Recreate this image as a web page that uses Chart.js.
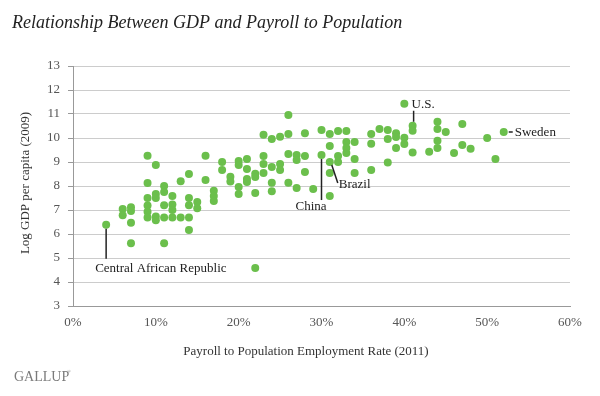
<!DOCTYPE html>
<html>
<head>
<meta charset="utf-8">
<title>Relationship Between GDP and Payroll to Population</title>
<script src="https://cdn.jsdelivr.net/npm/chart.js@4.4.0/dist/chart.umd.min.js"></script>
<style>
  html, body { margin: 0; padding: 0; background: #fff; }
  #wrap { width: 600px; height: 396px; }
</style>
</head>
<body>
<div id="wrap"><canvas id="chartGdp" width="600" height="396"></canvas></div>
<script>
// Datos: tasa P2P 2011 (%) y log PIB per cápita 2009
const payroll = [
  4, 6, 6, 7, 7, 7, 7,
  9, 9, 9, 9, 9, 9,
  10, 10, 10, 10, 10,
  11, 11, 11, 11, 11,
  12, 12, 12, 12,
  13, 13,
  14, 14, 14, 14, 14,
  15, 15, 16, 16, 17, 17, 17, 18, 18, 19, 19,
  20, 20, 20, 20, 21, 21, 21, 21,
  22, 22, 22, 22, 23, 23, 23, 23,
  24, 24, 24, 24, 25, 25, 25,
  26, 26, 26, 26, 27, 27, 27,
  28, 28, 28, 29, 30, 30,
  31, 31, 31, 31, 31, 32, 32, 32,
  33, 33, 33, 33, 34, 34, 34,
  36, 36, 36, 37, 38, 38, 38,
  39, 39, 39, 40, 40, 40, 41, 41, 41,
  43, 44, 44, 44, 44, 45, 46, 47, 47,
  48, 50, 51, 52
];
const logGdp = [
  6.39, 7.04, 6.78, 7.11, 6.96, 6.47, 5.61,
  9.26, 8.12, 7.5, 7.19, 6.93, 6.69,
  8.87, 7.67, 7.5, 6.73, 6.57,
  8.0, 7.75, 7.2, 6.69, 5.61,
  7.58, 7.23, 7.0, 6.69,
  8.2, 6.69,
  8.5, 7.5, 7.2, 6.69, 6.17,
  7.33, 7.07, 9.26, 8.25, 7.8, 7.58, 7.37, 9.0, 8.67, 8.39, 8.19,
  9.04, 8.87, 7.96, 7.67, 9.12, 8.71, 8.29, 8.17,
  8.51, 8.37, 7.71, 4.58, 10.14, 9.25, 8.92, 8.54,
  9.96, 8.79, 8.14, 7.78, 10.05, 8.92, 8.67,
  10.96, 10.17, 9.33, 8.14, 9.29, 9.08, 7.92,
  10.2, 9.25, 8.58, 7.87, 10.33, 9.29,
  10.17, 9.67, 9.0, 8.54, 7.58, 10.29, 9.25, 9.0,
  10.29, 9.83, 9.58, 9.37, 9.83, 9.12, 8.54,
  10.17, 9.76, 8.67, 10.37, 10.33, 9.96, 8.98,
  10.2, 10.04, 9.58, 11.43, 10.01, 9.75, 10.51, 10.3, 9.4,
  9.43, 10.68, 10.37, 9.89, 9.58, 10.25, 9.37, 10.58, 9.71,
  9.55, 10.0, 9.12, 10.25
];

// Países señalados
const paisNombres = ['Central African Republic', 'China', 'Brazil', 'U.S.', 'Sweden'];
const paisPayroll = [4, 30, 31, 41, 52];
const paisGdp = [6.39, 9.29, 9.0, 10.51, 10.25];

// Ejes
const xTickValores = [0, 10, 20, 30, 40, 50, 60];
const xTickEtiquetas = ['0%', '10%', '20%', '30%', '40%', '50%', '60%'];
const yTickValores = [3, 4, 5, 6, 7, 8, 9, 10, 11, 12, 13];

const titulo = 'Relationship Between GDP and Payroll to Population';
const tituloX = 'Payroll to Population Employment Rate (2011)';
const tituloY = 'Log GDP per capita (2009)';

const SERIF = '"Liberation Serif", "DejaVu Serif", serif';
const VERDE = '#6bbf4c';

// Estilo de cada anotación (desplazamientos en px respecto al punto)
const estiloEtiquetas = {
  'Central African Republic': { linea: [[0, 4], [0, 34]], texto: [-11, 47], align: 'left' },
  'China': { linea: [[0, 4], [0, 45]], texto: [-26, 55], align: 'left' },
  'Brazil': { linea: [[2, 3], [8, 21]], texto: [9, 26], align: 'left' },
  'U.S.': { linea: [[1, -4], [1, -15]], texto: [-1, -18], align: 'left' },
  'Sweden': { linea: [[5, 0], [9, 0]], texto: [11, 4], align: 'left' }
};

/**
 * Dibuja textos fijos: título, títulos de ejes y logo
 */
const textosPlugin = {
  id: 'textos',
  afterDraw(chart) {
    const ctx = chart.ctx;
    const area = chart.chartArea;
    ctx.save();
    ctx.fillStyle = '#222';
    ctx.font = 'italic 18px ' + SERIF;
    ctx.textAlign = 'left';
    ctx.textBaseline = 'alphabetic';
    ctx.fillText(titulo, 12, 28);

    ctx.fillStyle = '#333';
    ctx.font = '13px ' + SERIF;
    ctx.textAlign = 'center';
    ctx.textBaseline = 'middle';
    ctx.fillText(tituloX, 306, 352);

    ctx.save();
    ctx.translate(26, (area.top + area.bottom) / 2 - 3);
    ctx.rotate(-Math.PI / 2);
    ctx.fillText(tituloY, 0, 0);
    ctx.restore();

    // Logo
    ctx.fillStyle = '#7a7a7a';
    ctx.font = '14px ' + SERIF;
    ctx.textAlign = 'left';
    ctx.textBaseline = 'alphabetic';
    ctx.fillText('GALLUP', 14, 381);
    ctx.font = '5px ' + SERIF;
    ctx.fillText('®', 67, 373);
    ctx.restore();
  }
};

/**
 * Dibuja líneas y nombres de los países señalados
 */
const etiquetasPlugin = {
  id: 'etiquetas',
  afterDatasetsDraw(chart) {
    const ctx = chart.ctx;
    const xs = chart.scales.x;
    const ys = chart.scales.y;
    ctx.save();
    ctx.strokeStyle = '#222';
    ctx.lineWidth = 1.5;
    ctx.fillStyle = '#222';
    ctx.font = '13px ' + SERIF;
    ctx.textBaseline = 'alphabetic';
    paisNombres.forEach((nombre, i) => {
      const px = xs.getPixelForValue(paisPayroll[i]);
      const py = ys.getPixelForValue(paisGdp[i]);
      const est = estiloEtiquetas[nombre];
      ctx.beginPath();
      ctx.moveTo(px + est.linea[0][0], py + est.linea[0][1]);
      ctx.lineTo(px + est.linea[1][0], py + est.linea[1][1]);
      ctx.stroke();
      ctx.textAlign = est.align;
      ctx.fillText(nombre, px + est.texto[0], py + est.texto[1]);
    });
    ctx.restore();
  }
};

let chartGdp = new Chart(document.getElementById('chartGdp'), {
  type: 'scatter',
  data: {
    datasets: [{
      label: 'Países',
      data: payroll.map((p, i) => ({ x: p, y: logGdp[i] })),
      backgroundColor: VERDE,
      borderWidth: 0,
      pointRadius: 4,
      pointHoverRadius: 4
    }]
  },
  options: {
    responsive: false,
    animation: false,
    events: [],
    layout: { padding: { top: 66, right: 30, bottom: 0, left: 0 } },
    plugins: {
      legend: { display: false },
      tooltip: { enabled: false }
    },
    scales: {
      x: {
        type: 'linear',
        min: 0,
        max: 60,
        afterBuildTicks: s => { s.ticks = xTickValores.map(v => ({ value: v })); },
        afterFit: s => { s.height = 90; },
        grid: { drawOnChartArea: false, drawTicks: false },
        border: { color: '#999', width: 1 },
        ticks: {
          padding: 9,
          color: '#555',
          font: { family: SERIF, size: 13 },
          callback: v => xTickEtiquetas[xTickValores.indexOf(v)]
        }
      },
      y: {
        type: 'linear',
        min: 3,
        max: 13,
        afterBuildTicks: s => { s.ticks = yTickValores.map(v => ({ value: v })); },
        afterFit: s => { s.width = 73; },
        grid: { color: '#cccccc', tickColor: '#999', tickLength: 5 },
        border: { color: '#999', width: 1 },
        ticks: {
          padding: 8,
          color: '#555',
          font: { family: SERIF, size: 13 }
        }
      }
    }
  },
  plugins: [etiquetasPlugin, textosPlugin]
});
</script>
</body>
</html>
